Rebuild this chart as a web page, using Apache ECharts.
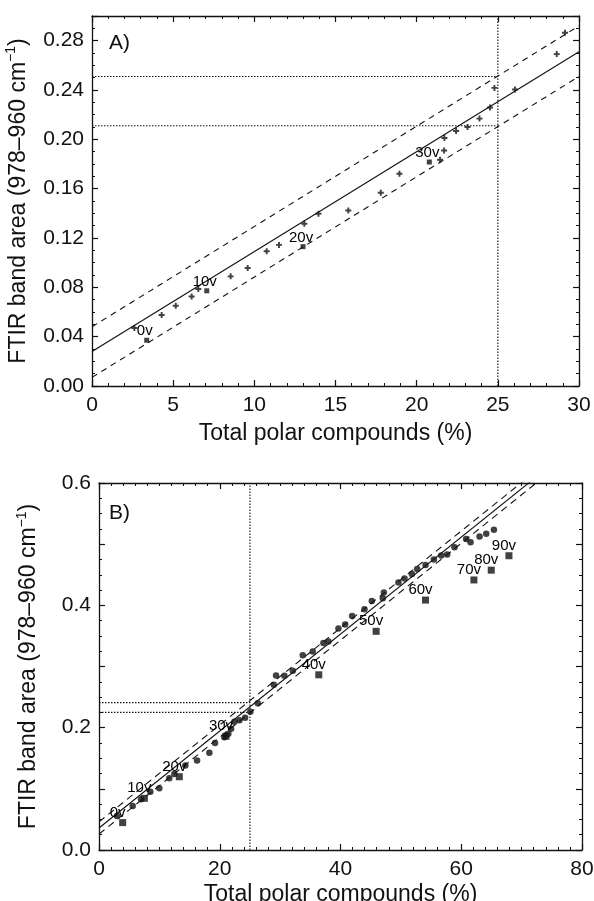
<!DOCTYPE html>
<html><head><meta charset="utf-8">
<script src="https://cdn.jsdelivr.net/npm/echarts/dist/echarts.min.js"></script>
<style>html,body{margin:0;padding:0;background:#fff;}#c{width:594px;height:901px;}</style>
</head><body><div id="c"></div>
<script>
// ---------- Panel A data ----------
const aCrossX = [2.61, 4.29, 5.16, 6.14, 6.55, 8.54, 9.59, 10.76, 11.52, 13.08, 13.95, 15.79, 17.79, 18.94, 21.44, 21.69, 21.71, 22.43, 23.13, 23.87, 24.52, 24.79, 26.06, 28.63, 29.14];
const aCrossY = [0.047, 0.0575, 0.065, 0.0726, 0.0786, 0.0889, 0.0957, 0.1092, 0.1144, 0.1315, 0.1396, 0.1423, 0.1567, 0.1721, 0.1835, 0.191, 0.2011, 0.2068, 0.21, 0.2168, 0.2258, 0.2417, 0.2404, 0.2691, 0.2864];
const aSquareX = [3.37, 7.07, 13.0, 20.78];
const aSquareY = [0.0371, 0.0772, 0.113, 0.1816];
const aSquareLabels = ['0v', '10v', '20v', '30v'];
const aFitX = [0, 30];
const aFitY = [0.028, 0.271];
const aUpperY = [0.048, 0.292];
const aLowerY = [0.007, 0.251];
const aGuideX = 25;
const aGuideY = [0.251, 0.211];
const aYTicks = ['0.00', '0.04', '0.08', '0.12', '0.16', '0.20', '0.24', '0.28'];

// ---------- Panel B data ----------
const bCircleX = [2.98, 5.58, 6.96, 8.5, 9.99, 11.64, 12.47, 14.3, 16.24, 18.28, 19.22, 20.77, 21.43, 21.88, 22.43, 23.26, 24.2, 25.07, 26.3, 28.95, 29.33, 30.71, 32.1, 33.75, 35.4, 37.16, 38.0, 39.66, 40.77, 41.93, 43.97, 45.19, 47.01, 47.18, 49.6, 50.6, 51.82, 52.7, 54.08, 55.47, 56.68, 57.67, 58.88, 60.82, 61.54, 63.03, 64.14, 65.41];
const bCircleY = [0.0555, 0.0719, 0.083, 0.0951, 0.101, 0.1173, 0.1244, 0.1382, 0.1464, 0.1588, 0.1749, 0.1845, 0.19, 0.1982, 0.2095, 0.2123, 0.2161, 0.226, 0.24, 0.27, 0.2853, 0.2848, 0.2932, 0.3183, 0.3245, 0.3383, 0.341, 0.362, 0.3687, 0.3825, 0.3935, 0.4072, 0.4117, 0.4209, 0.4374, 0.444, 0.4512, 0.4594, 0.466, 0.4748, 0.4814, 0.483, 0.4951, 0.5086, 0.503, 0.5126, 0.517, 0.5234];
const bSquareX = [3.92, 7.51, 13.3, 21.04, 36.4, 45.9, 54.08, 62.1, 64.97, 67.9];
const bSquareY = [0.0448, 0.0845, 0.1198, 0.186, 0.2864, 0.3575, 0.4086, 0.4415, 0.4575, 0.4811];
const bSquareLabels = ['0v', '10v', '20v', '30v', '40v', '50v', '60v', '70v', '80v', '90v'];
const bFitX = [0, 80];
const bFitY = [0.036, 0.670];
const bUpperY = [0.046, 0.680];
const bLowerY = [0.026, 0.660];
const bGuideX = 25;
const bGuideY = [0.241, 0.225];
const bYTicks = ['0.0', '0.2', '0.4', '0.6'];

// ---------- helpers ----------
const FONT = '"Liberation Sans", Arial, Helvetica, sans-serif';
const BLACK = '#111111';
const pair = (xs, ys) => xs.map((x, i) => [x, ys[i]]);

function xAxisDef(gi, min, max, interval, minorSplit, pos, showLabels, name, nameGap) {
  return {
    type: 'value', gridIndex: gi, min: min, max: max, interval: interval, position: pos,
    splitLine: { show: false },
    axisLine: { show: true, onZero: false, lineStyle: { color: BLACK, width: 1.3 } },
    axisTick: { show: true, inside: true, length: 6, lineStyle: { color: BLACK, width: 1.2 } },
    minorTick: { show: true, splitNumber: minorSplit, length: 3, lineStyle: { color: BLACK, width: 1 } },
    axisLabel: { show: showLabels, color: BLACK, fontSize: 21, fontFamily: FONT, margin: 9 },
    name: name, nameLocation: 'middle', nameGap: nameGap,
    nameTextStyle: { color: BLACK, fontSize: 23, fontFamily: FONT }
  };
}
function yAxisDef(gi, min, max, interval, minorSplit, pos, showLabels, labelSet, name, nameGap) {
  return {
    type: 'value', gridIndex: gi, min: min, max: max, interval: interval, position: pos,
    splitLine: { show: false },
    axisLine: { show: true, onZero: false, lineStyle: { color: BLACK, width: 1.3 } },
    axisTick: { show: true, inside: true, length: 6, lineStyle: { color: BLACK, width: 1.2 } },
    minorTick: { show: true, splitNumber: minorSplit, length: 3, lineStyle: { color: BLACK, width: 1 } },
    axisLabel: {
      show: showLabels, color: BLACK, fontSize: 21, fontFamily: FONT, margin: 8,
      formatter: function (v) {
        for (const t of labelSet) { if (Math.abs(parseFloat(t) - v) < 1e-6) return t; }
        return '';
      }
    },
    name: name, nameLocation: 'middle', nameGap: nameGap, nameRotate: 90,
    nameTextStyle: {
      color: BLACK, fontSize: 23, fontFamily: FONT, lineHeight: 28,
      rich: { sup: { fontSize: 14, fontFamily: FONT, color: BLACK, verticalAlign: 'top', lineHeight: 14 } }
    }
  };
}
function lineSeries(xi, yi, data, dash, width) {
  return {
    type: 'line', xAxisIndex: xi, yAxisIndex: yi, data: data, symbol: 'none', silent: true,
    lineStyle: { color: BLACK, width: width, type: dash }, z: 2, clip: true
  };
}
function labelStyle(offset) {
  return {
    show: true, formatter: '{b}', position: 'top', distance: 0, offset: offset,
    color: '#000000', opacity: 1, fontSize: 15, fontFamily: FONT,
    textBorderWidth: 0, textShadowBlur: 0
  };
}
const PLUS = 'path://M3.4,0H6.6V3.4H10V6.6H6.6V10H3.4V6.6H0V3.4H3.4Z';
const yName = 'FTIR band area (978\u2013960 cm{sup|\u22121})';

const option = {
  animation: false,
  backgroundColor: '#ffffff',
  grid: [
    { left: 92, top: 16, width: 487, height: 370, outerBoundsMode: 'none' },
    { left: 99, top: 483, width: 483, height: 367, outerBoundsMode: 'none' }
  ],
  title: [
    { text: 'A)', left: 104, top: 28, textStyle: { fontSize: 21, fontWeight: 'normal', color: BLACK, fontFamily: FONT } },
    { text: 'B)', left: 104, top: 498, textStyle: { fontSize: 21, fontWeight: 'normal', color: BLACK, fontFamily: FONT } }
  ],
  xAxis: [
    xAxisDef(0, 0, 30, 5, 5, 'bottom', true, 'Total polar compounds (%)', 36),
    xAxisDef(0, 0, 30, 5, 5, 'top', false, '', 0),
    xAxisDef(1, 0, 80, 20, 10, 'bottom', true, 'Total polar compounds (%)', 33),
    xAxisDef(1, 0, 80, 20, 10, 'top', false, '', 0)
  ],
  yAxis: [
    yAxisDef(0, 0, 0.30, 0.04, 4, 'left', true, aYTicks, yName, 56),
    yAxisDef(0, 0, 0.30, 0.04, 4, 'right', false, aYTicks, '', 0),
    yAxisDef(1, 0, 0.6, 0.1, 4, 'left', true, bYTicks, yName, 56),
    yAxisDef(1, 0, 0.6, 0.1, 4, 'right', false, bYTicks, '', 0)
  ],
  series: [
    // Panel A guides
    lineSeries(0, 0, [[aGuideX, 0], [aGuideX, 0.30]], [1.5, 1.5], 1.1),
    lineSeries(0, 0, [[0, aGuideY[0]], [aGuideX, aGuideY[0]]], [1.5, 1.5], 1.1),
    lineSeries(0, 0, [[0, aGuideY[1]], [aGuideX, aGuideY[1]]], [1.5, 1.5], 1.1),
    // Panel A fit and band
    lineSeries(0, 0, pair(aFitX, aFitY), 'solid', 1.1),
    lineSeries(0, 0, pair(aFitX, aUpperY), [6, 5], 1.1),
    lineSeries(0, 0, pair(aFitX, aLowerY), [6, 5], 1.1),
    {
      type: 'scatter', xAxisIndex: 0, yAxisIndex: 0, symbol: PLUS, symbolSize: 6,
      itemStyle: { color: BLACK }, data: pair(aCrossX, aCrossY), z: 3
    },
    {
      type: 'scatter', xAxisIndex: 0, yAxisIndex: 0, symbol: 'rect', symbolSize: 5,
      itemStyle: { color: BLACK }, z: 3,
      data: aSquareX.map((x, i) => ({ value: [x, aSquareY[i]], name: aSquareLabels[i] })),
      label: labelStyle([-2, 1])
    },
    // Panel B guides
    lineSeries(2, 2, [[bGuideX, 0], [bGuideX, 0.6]], [1.5, 1.5], 1.1),
    lineSeries(2, 2, [[0, bGuideY[0]], [bGuideX, bGuideY[0]]], [1.5, 1.5], 1.1),
    lineSeries(2, 2, [[0, bGuideY[1]], [bGuideX, bGuideY[1]]], [1.5, 1.5], 1.1),
    // Panel B fit and band
    lineSeries(2, 2, pair(bFitX, bFitY), 'solid', 1.1),
    lineSeries(2, 2, pair(bFitX, bUpperY), [7, 5], 1.1),
    lineSeries(2, 2, pair(bFitX, bLowerY), [7, 5], 1.1),
    {
      type: 'scatter', xAxisIndex: 2, yAxisIndex: 2, symbol: 'circle', symbolSize: 6.5,
      itemStyle: { color: BLACK }, data: pair(bCircleX, bCircleY), z: 3
    },
    {
      type: 'scatter', xAxisIndex: 2, yAxisIndex: 2, symbol: 'rect', symbolSize: 7,
      itemStyle: { color: BLACK }, z: 3,
      data: bSquareX.map((x, i) => ({ value: [x, bSquareY[i]], name: bSquareLabels[i] })),
      label: labelStyle([-5, 1])
    }
  ]
};
const chart = echarts.init(document.getElementById('c'), null, { renderer: 'canvas' });
chart.setOption(option);
</script></body></html>
